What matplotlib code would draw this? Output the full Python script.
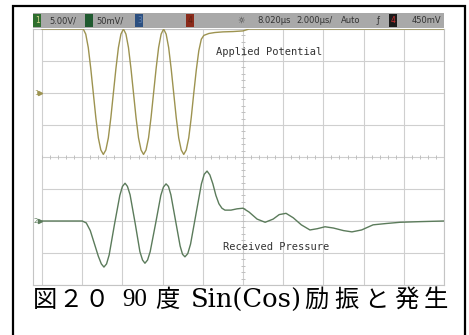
import numpy as np
import matplotlib.pyplot as plt
from matplotlib.patches import Rectangle

# CH1: 印加電圧 (V), 時間 µs
t1 = [0.0, 2.05,
      2.175, 2.3, 2.425, 2.55, 2.675, 2.8, 2.925, 3.05,
      3.175, 3.3, 3.425, 3.55, 3.675, 3.8, 3.925, 4.05,
      4.175, 4.3, 4.425, 4.55, 4.675, 4.8, 4.925, 5.05,
      5.175, 5.3, 5.425, 5.55, 5.675, 5.8, 5.925, 6.05,
      6.175, 6.3, 6.425, 6.55, 6.675, 6.8, 6.925, 7.05,
      7.175, 7.3, 7.425, 7.55, 7.675, 7.8, 7.925, 8.05,
      8.3, 8.6, 9.0, 9.5, 10.0, 10.3, 20.0]
v1 = [10, 10,
      9.2, 7.1, 3.8, 0, -3.8, -7.0, -8.9, -9.6,
      -8.9, -7.0, -3.8, 0, 3.8, 7.1, 9.2, 10,
      9.2, 7.1, 3.8, 0, -3.8, -7.0, -8.9, -9.6,
      -8.9, -7.0, -3.8, 0, 3.8, 7.1, 9.2, 10,
      9.2, 7.1, 3.8, 0, -3.8, -7.0, -8.9, -9.6,
      -8.9, -7.0, -3.8, 0, 3.6, 6.6, 8.4, 9.0,
      9.3, 9.45, 9.55, 9.6, 9.7, 10, 10]

# CH2: 受信圧力 (mV)
t2 = [0.0, 2.0, 2.2, 2.4, 2.6, 2.8, 2.95, 3.08,
      3.21, 3.34, 3.6, 3.87, 4.0, 4.13,
      4.25, 4.38, 4.63, 4.87, 5.0, 5.12,
      5.25, 5.38, 5.65, 5.91, 6.04, 6.17,
      6.29, 6.41, 6.64, 6.87, 6.99, 7.11,
      7.25, 7.39, 7.66, 7.93, 8.07, 8.21,
      8.35, 8.5, 8.65, 8.8, 8.95, 9.1, 9.4, 9.7, 10.0, 10.3, 10.7, 11.1,
      11.5, 11.8, 12.14, 12.5, 12.9, 13.33, 13.7, 14.08, 14.5, 15.0,
      15.42, 15.9, 16.47, 17.1, 17.81, 18.8, 20.0]
p2 = [0, 0, -3, -15, -35, -55, -67, -72,
      -67, -53, -6, 40, 54, 59,
      54, 41, -3, -48, -61, -66,
      -61, -48, -4, 40, 53, 58,
      54, 41, 1, -39, -52, -56,
      -51, -36, 11, 58, 73, 78,
      72, 58, 40, 27, 20, 17, 17, 19, 20, 14, 3, -2,
      3, 10, 12, 5, -6, -14, -12, -9, -11, -15,
      -17, -14, -6, -4, -2, -1, 0]

ch1_scale, ch1_pos = 5.0, 2.0     # V/div, div
ch2_scale, ch2_pos = 50.0, -2.0   # mV/div, div

W, H = 469, 335
c1 = '#9d9350'
c2 = '#5b7b5b'
gc = '#cfcfcf'


def box(x0, y0, x1, y1):
    return [x0 / W, 1 - y1 / H, (x1 - x0) / W, (y1 - y0) / H]


fig = plt.figure(figsize=(W / 100, H / 100), dpi=100)

# 外枠
fig.patches.append(Rectangle((13 / W, -0.05), (465 - 13) / W, 1.05 - 6 / H,
                             transform=fig.transFigure, fill=False, ec='k', lw=1.6))

# 示波器画面
ax = fig.add_axes(box(33, 29, 444, 285))
ax.set_xlim(-0.45, 20)
ax.set_ylim(-4, 4)
ax.set_xticks([])
ax.set_yticks([])
for s in ax.spines.values():
    s.set_color('#c4c4c4')
    s.set_linewidth(0.8)

for tx in range(0, 21, 2):
    ax.axvline(tx, color=gc, lw=0.8, zorder=1)
for yy in range(-4, 5):
    ax.hlines(yy, 0, 20, color=gc, lw=0.8, zorder=1)
# 中心線の目盛
for tx in np.arange(0, 20.01, 0.4):
    ax.vlines(tx, -0.05, 0.05, color='#c0c0c0', lw=0.7, zorder=1)
for yy in np.arange(-4, 4.01, 0.2):
    ax.hlines(yy, 9.88, 10.12, color='#c0c0c0', lw=0.7, zorder=1)

ax.plot(t1, np.array(v1) / ch1_scale + ch1_pos, color=c1, lw=1.0, zorder=3)
ax.plot(t2, np.array(p2) / ch2_scale + ch2_pos, color=c2, lw=1.0, zorder=3)

ax.text(8.66, 3.28, 'Applied Potential', family='DejaVu Sans Mono', fontsize=7.5,
        color='#333333', va='center')
ax.text(9.0, -2.81, 'Received Pressure', family='DejaVu Sans Mono', fontsize=7.5,
        color='#333333', va='center')

# チャンネル基準マーカー
ax.text(-0.4, ch1_pos, '1', fontsize=5, color=c1, va='center')
ax.plot(-0.12, ch1_pos, marker='>', ms=3, color=c1, clip_on=False)
ax.text(-0.4, ch2_pos, '2', fontsize=5, color=c2, va='center')
ax.plot(-0.12, ch2_pos, marker='>', ms=3, color=c2, clip_on=False)

# ステータスバー
sb = fig.add_axes(box(33, 13, 444, 28))
sb.set_facecolor('#a9a9a9')
sb.set_xlim(33, 444)
sb.set_ylim(0, 1)
sb.set_xticks([])
sb.set_yticks([])
for s in sb.spines.values():
    s.set_visible(False)

tc = '#333333'
boxes = [(35, '1', '#2f6f2f', '#d8d890'), (87, '2', '#1f5a2f', '#1f5a2f'),
         (137, '3', '#2b4f80', '#6080b0'), (188, '4', '#8a2a1a', '#602010'),
         (391, '4', '#1a1a1a', '#d03030')]
for bx, lab, fc, col in boxes:
    sb.text(bx, 0.5, lab, fontsize=5.5, color=col, va='center', ha='left',
            bbox=dict(boxstyle='square,pad=0.2', fc=fc, ec='none'))
labels = [(49, '5.00V/'), (96, '50mV/'), (237, '☼'), (257, '8.020µs'),
          (296, '2.000µs/'), (341, 'Auto'), (377, 'ƒ'), (412, '450mV')]
for lx, lab in labels:
    sb.text(lx, 0.5, lab, fontsize=6, color=tc, va='center', ha='left')

# キャプション
cy = 1 - 300 / H
cjk = ['Noto Sans CJK JP', 'DejaVu Sans']
cap_cjk = [(33, '図'), (58, '２'), (84, '０'), (155, '度'),
           (304, '励'), (334, '振'), (364, 'と'), (394, '発'), (424, '生')]
for cx, ch in cap_cjk:
    fig.text(cx / W, cy, ch, family=cjk, fontsize=17.5, va='center')
fig.text(122 / W, cy, '90', family='Liberation Serif', fontsize=18, va='center')
fig.text(191 / W, cy, 'Sin(Cos)', family='DejaVu Serif', fontsize=18.5, va='center')

fig.savefig('out.png', dpi=100)
